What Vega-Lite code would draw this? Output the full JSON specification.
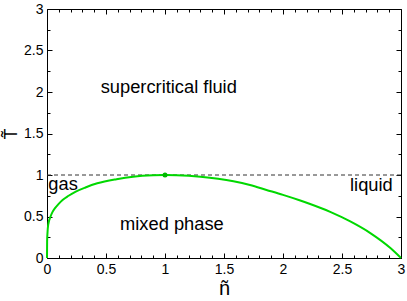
{
  "$schema": "https://vega.github.io/schema/vega-lite/v6.json",
  "width": 354,
  "height": 249,
  "autosize": "none",
  "padding": {"left": 47, "top": 9, "right": 6, "bottom": 43},
  "background": "white",
  "config": {
    "view": {"stroke": "black", "strokeWidth": 1},
    "axis": {
      "grid": false,
      "domain": false,
      "zindex": 1,
      "labelFont": "Liberation Sans",
      "labelFontSize": 14,
      "labelColor": "black",
      "titleFont": "Liberation Sans",
      "titleColor": "black",
      "titleFontWeight": "normal",
      "tickColor": "black",
      "tickWidth": 1,
      "format": "~g"
    }
  },
  "datasets": {
    "curve": [
      {"n": 0.0, "T": 0.0},
      {"n": 0.001, "T": 0.2},
      {"n": 0.004, "T": 0.3},
      {"n": 0.01, "T": 0.4},
      {"n": 0.03, "T": 0.5},
      {"n": 0.045, "T": 0.55},
      {"n": 0.068, "T": 0.6},
      {"n": 0.097, "T": 0.65},
      {"n": 0.132, "T": 0.7},
      {"n": 0.183, "T": 0.75},
      {"n": 0.244, "T": 0.8},
      {"n": 0.326, "T": 0.85},
      {"n": 0.426, "T": 0.9},
      {"n": 0.589, "T": 0.95},
      {"n": 0.73, "T": 0.98},
      {"n": 0.808, "T": 0.99},
      {"n": 0.9, "T": 0.997},
      {"n": 1.0, "T": 1.0},
      {"n": 1.1, "T": 0.997},
      {"n": 1.2, "T": 0.99},
      {"n": 1.3, "T": 0.979},
      {"n": 1.45, "T": 0.955},
      {"n": 1.58, "T": 0.925},
      {"n": 1.72, "T": 0.88},
      {"n": 1.86, "T": 0.82},
      {"n": 2.0, "T": 0.76},
      {"n": 2.14, "T": 0.695},
      {"n": 2.23, "T": 0.65},
      {"n": 2.4, "T": 0.555},
      {"n": 2.57, "T": 0.44},
      {"n": 2.74, "T": 0.3},
      {"n": 2.91, "T": 0.12},
      {"n": 3.0, "T": 0.0}
    ],
    "cp": [{"n": 1.0, "T": 1.0}],
    "labels": [
      {"n": 0.455, "T": 1.984, "label": "supercritical fluid"},
      {"n": 0.011, "T": 0.825, "label": "gas"},
      {"n": 2.568, "T": 0.811, "label": "liquid"},
      {"n": 0.619, "T": 0.337, "label": "mixed phase"}
    ]
  },
  "layer": [
    {
      "data": {"name": "cp"},
      "mark": {"type": "rule", "color": "#333333", "strokeDash": [4, 3], "strokeWidth": 1},
      "encoding": {
        "x": {"datum": 0, "type": "quantitative", "scale": {"domain": [0, 3], "nice": false},
          "axis": {"orient": "bottom", "offset": -5, "values": [0, 0.5, 1, 1.5, 2, 2.5, 3], "tickSize": 5, "labelPadding": 4, "labelFlush": false, "labelOverlap": false, "title": "ñ", "titleFontSize": 20, "titlePadding": 2}},
        "x2": {"datum": 3},
        "y": {"datum": 1, "type": "quantitative", "scale": {"domain": [0, 3], "nice": false},
          "axis": {"orient": "left", "offset": -5, "values": [0, 0.5, 1, 1.5, 2, 2.5, 3], "tickSize": 5, "labelPadding": 4, "labelFlush": false, "labelOverlap": false, "title": "T̃", "titleFontSize": 18, "titlePadding": 3}}
      }
    },
    {
      "data": {"name": "curve"},
      "mark": {"type": "line", "color": "#00d800", "strokeWidth": 2, "interpolate": "monotone"},
      "encoding": {
        "x": {"field": "n", "type": "quantitative",
          "axis": {"orient": "bottom", "offset": -3, "values": [0.1,0.2,0.3,0.4,0.6,0.7,0.8,0.9,1.1,1.2,1.3,1.4,1.6,1.7,1.8,1.9,2.1,2.2,2.3,2.4,2.6,2.7,2.8,2.9], "tickSize": 3, "labels": false, "title": null}},
        "y": {"field": "T", "type": "quantitative",
          "axis": {"orient": "left", "offset": -3, "values": [0.25, 0.75, 1.25, 1.75, 2.25, 2.75], "tickSize": 3, "labels": false, "title": null}}
      }
    },
    {
      "data": {"name": "cp"},
      "mark": {"type": "point", "filled": true, "color": "#00b800", "size": 25, "opacity": 1},
      "encoding": {
        "x": {"field": "n", "type": "quantitative",
          "axis": {"orient": "top", "offset": -5, "values": [0, 0.5, 1, 1.5, 2, 2.5, 3], "tickSize": 5, "labels": false, "title": null}},
        "y": {"field": "T", "type": "quantitative",
          "axis": {"orient": "right", "offset": -5, "values": [0, 0.5, 1, 1.5, 2, 2.5, 3], "tickSize": 5, "labels": false, "title": null}}
      }
    },
    {
      "data": {"name": "labels"},
      "mark": {"type": "text", "align": "left", "baseline": "alphabetic", "font": "Liberation Sans", "fontSize": 18.3, "color": "black"},
      "encoding": {
        "x": {"field": "n", "type": "quantitative",
          "axis": {"orient": "top", "offset": -3, "values": [0.1,0.2,0.3,0.4,0.6,0.7,0.8,0.9,1.1,1.2,1.3,1.4,1.6,1.7,1.8,1.9,2.1,2.2,2.3,2.4,2.6,2.7,2.8,2.9], "tickSize": 3, "labels": false, "title": null}},
        "y": {"field": "T", "type": "quantitative",
          "axis": {"orient": "right", "offset": -3, "values": [0.25, 0.75, 1.25, 1.75, 2.25, 2.75], "tickSize": 3, "labels": false, "title": null}},
        "text": {"field": "label"}
      }
    }
  ],
  "resolve": {"axis": {"x": "independent", "y": "independent"}}
}
